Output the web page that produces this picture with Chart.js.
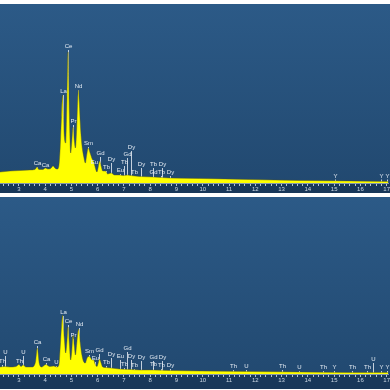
<!DOCTYPE html>
<html>
<head>
<meta charset="utf-8">
<script src="https://cdn.jsdelivr.net/npm/chart.js@4"></script>
<style>
  body { margin: 0; background: #fff; width: 390px; height: 390px; overflow: hidden; }
  canvas { position: absolute; left: 0; }
  #top { top: 4px; }
  #bottom { top: 197px; }
</style>
</head>
<body>
<canvas id="top" width="390" height="189"></canvas>
<canvas id="bottom" width="390" height="192"></canvas>
<script>
// spectrum 1 (upper panel), energy in keV / counts
const topEnergy = [2.28, 2.66, 3.04, 3.42, 3.61, 3.69, 3.76, 3.91, 4.01, 4.10, 4.21, 4.30, 4.39, 4.46, 4.52, 4.57,
  4.62, 4.66, 4.70, 4.73, 4.78, 4.83, 4.87, 4.90, 4.92, 4.97, 5.01, 5.06, 5.11, 5.15, 5.20, 5.24, 5.27, 5.30,
  5.34, 5.39, 5.47, 5.53, 5.58, 5.64, 5.71, 5.79, 5.85, 5.90, 5.97, 6.02, 6.07, 6.13, 6.19, 6.30, 6.38, 6.51,
  6.64, 6.83, 6.98, 7.14, 7.25, 7.59, 8.12, 8.73, 9.87, 11.76, 13.66, 15.56, 17.07];
const topCounts = [11, 12, 12.5, 13, 13.5, 16, 13.5, 13.5, 15, 14, 14.5, 17, 14.5, 14, 17, 35,
  66, 88, 62, 46, 40, 85, 131, 96, 70, 30, 40, 56, 42, 35, 55, 84, 93, 80,
  58, 40, 26, 20, 28, 35, 30, 24, 21, 16, 11, 16, 22, 17, 12, 12, 9, 10,
  8, 8, 7.5, 8, 7.5, 6.5, 6, 5, 4.5, 3.5, 2.5, 2, 1.5];

// spectrum 2 (lower panel)
const bottomEnergy = [2.28, 2.46, 2.66, 2.89, 3.00, 3.08, 3.16, 3.27, 3.49, 3.63, 3.70, 3.78, 3.87, 4.02, 4.18,
  4.33, 4.44, 4.52, 4.58, 4.62, 4.66, 4.70, 4.73, 4.78, 4.83, 4.87, 4.90, 4.92, 4.97, 5.01, 5.06, 5.11, 5.15,
  5.20, 5.24, 5.27, 5.30, 5.34, 5.39, 5.47, 5.53, 5.58, 5.64, 5.71, 5.79, 5.85, 5.90, 5.97, 6.02, 6.07, 6.13,
  6.19, 6.30, 6.51, 6.83, 7.25, 7.59, 8.12, 8.73, 9.87, 11.76, 13.66, 15.56, 17.07];
const bottomCounts = [7, 7.5, 7, 7.5, 9.5, 7.5, 9, 7, 7, 12, 26, 10, 7, 9.5, 7.5,
  8, 7, 9, 30, 47, 59, 44, 35, 21, 33, 47, 38, 30, 14, 22, 39, 28, 19,
  30, 41, 45, 40, 30, 20, 12, 11, 15, 17.5, 17, 14, 14, 10, 7.5, 11, 15, 11,
  7, 6.5, 6, 5, 4.5, 4, 4, 3.5, 3, 2.5, 2, 1.5, 1.5];

// element line markers
const topLineName = ['Ca', 'Ca', 'La', 'Ce', 'Pr', 'Nd', 'Sm', 'Eu', 'Gd', 'Tb', 'Dy', 'Eu', 'Tb', 'Gd', 'Dy',
  'Tb', 'Dy', 'Tb', 'Gd', 'Dy', 'Tb', 'Dy', 'Y', 'Y', 'Y'];
const topLineEnergy = [3.69, 4.01, 4.66, 4.87, 5.05, 5.26, 5.64, 5.87, 6.07, 6.30, 6.51, 6.86, 6.99, 7.10, 7.27,
  7.40, 7.65, 8.12, 8.12, 8.45, 8.41, 8.76, 15.03, 16.80, 17.03];
const topLineHeight = [16, 14.5, 88, 133, 58, 93, 36, 17, 26, 12, 20, 9, 17, 25, 32,
  7, 15, 15, 7, 15, 7, 7, 3.5, 3.5, 3.5];

const bottomLineName = ['Th', 'U', 'Th', 'U', 'Ca', 'Ca', 'U', 'La', 'Ce', 'Pr', 'Nd', 'Sm', 'Eu', 'Gd', 'Tb', 'Dy',
  'Eu', 'Tb', 'Gd', 'Dy', 'Tb', 'Dy', 'Gd', 'Tb', 'Dy', 'Tb', 'Dy',
  'Th', 'U', 'Th', 'U', 'Th', 'Y', 'Th', 'Th', 'U', 'Y', 'Y'];
const bottomLineEnergy = [2.34, 2.46, 3.01, 3.16, 3.69, 4.02, 4.42, 4.66, 4.86, 5.05, 5.27, 5.66, 5.88, 6.06, 6.30, 6.52,
  6.86, 7.00, 7.10, 7.28, 7.40, 7.66, 8.12, 8.12, 8.45, 8.41, 8.76,
  11.16, 11.64, 13.03, 13.66, 14.57, 15.01, 15.68, 16.25, 16.48, 16.80, 17.03];
const bottomLineHeight = [9, 18, 9, 18, 28, 11, 8, 58, 49, 35, 46, 19, 12, 20, 8, 16,
  14, 6, 22, 14, 5, 13, 13, 6, 13, 5, 5,
  4, 4, 4, 3, 3, 3, 3, 3, 11, 3, 3];

const colors = {
  bgTop: '#2c5a87',
  bgBottom: '#21486f',
  axisStrip: 'rgba(8,25,48,0.35)',
  spectrum: '#ffff00',
  spectrumEdge: 'rgba(90,90,20,0.7)',
  marker: 'rgba(225,232,240,0.85)',
  markerText: '#e4ebf3',
  tick: 'rgba(220,230,240,0.8)',
  tickLabel: '#c9d6e3'
};

const panelBackground = {
  id: 'panelBackground',
  beforeDraw(chart) {
    const {ctx, width, height, chartArea} = chart;
    const g = ctx.createLinearGradient(0, 0, 0, height);
    g.addColorStop(0, colors.bgTop);
    g.addColorStop(1, colors.bgBottom);
    ctx.save();
    ctx.fillStyle = g;
    ctx.fillRect(0, 0, width, height);
    ctx.fillStyle = colors.axisStrip;
    ctx.fillRect(0, chartArea.bottom, width, height - chartArea.bottom);
    ctx.restore();
  }
};

// vertical line at each line energy (behind the spectrum), symbol on top
const lineMarkers = {
  id: 'lineMarkers',
  beforeDatasetsDraw(chart, args, opts) {
    const {ctx, scales: {x, y}} = chart;
    const base = y.getPixelForValue(0);
    ctx.save();
    ctx.strokeStyle = colors.marker;
    ctx.lineWidth = 1;
    opts.energy.forEach((e, i) => {
      const px = Math.round(x.getPixelForValue(e)) + 0.5;
      ctx.beginPath();
      ctx.moveTo(px, base);
      ctx.lineTo(px, y.getPixelForValue(opts.height[i]));
      ctx.stroke();
    });
    ctx.restore();
  },
  afterDatasetsDraw(chart, args, opts) {
    const {ctx, scales: {x, y}} = chart;
    ctx.save();
    ctx.font = '6px "Liberation Sans"';
    ctx.textAlign = 'center';
    ctx.textBaseline = 'bottom';
    ctx.fillStyle = colors.markerText;
    opts.energy.forEach((e, i) => {
      const px = Math.round(x.getPixelForValue(e)) + 0.5;
      ctx.fillText(opts.name[i], px, y.getPixelForValue(opts.height[i]) - 0.5);
    });
    ctx.restore();
  }
};

function createSpectrum(canvas, energy, counts, lines, yMax, padBottom) {
  return new Chart(canvas, {
    type: 'line',
    data: {
      datasets: [{
        data: energy.map((e, i) => ({x: e, y: counts[i]})),
        backgroundColor: colors.spectrum,
        borderColor: colors.spectrumEdge,
        borderWidth: 0.6,
        fill: 'origin',
        pointRadius: 0,
        cubicInterpolationMode: 'monotone'
      }]
    },
    options: {
      responsive: false,
      animation: false,
      layout: {padding: {left: 0, right: 0, top: 0, bottom: padBottom}},
      plugins: {
        legend: {display: false},
        tooltip: {enabled: false},
        lineMarkers: lines
      },
      scales: {
        x: {
          type: 'linear', min: 2.28, max: 17.07,
          ticks: {
            stepSize: 0.2,
            includeBounds: false,
            autoSkip: false,
            maxRotation: 0,
            padding: 0,
            color: colors.tickLabel,
            font: {family: 'Liberation Sans', size: 6, lineHeight: 1},
            callback: v => Math.abs(v - Math.round(v)) < 0.01 ? String(Math.round(v)) : ''
          },
          grid: {
            drawOnChartArea: false,
            drawTicks: true,
            tickLength: 3,
            color: colors.tick,
            lineWidth: 1
          },
          border: {display: true, color: 'rgba(200,215,230,0.6)', width: 1}
        },
        y: {
          display: false,
          min: 0,
          max: yMax
        }
      }
    },
    plugins: [panelBackground, lineMarkers]
  });
}

createSpectrum(document.getElementById('top'), topEnergy, topCounts,
  {name: topLineName, energy: topLineEnergy, height: topLineHeight}, 179, 1);
createSpectrum(document.getElementById('bottom'), bottomEnergy, bottomCounts,
  {name: bottomLineName, energy: bottomLineEnergy, height: bottomLineHeight}, 177, 6);
</script>
</body>
</html>
